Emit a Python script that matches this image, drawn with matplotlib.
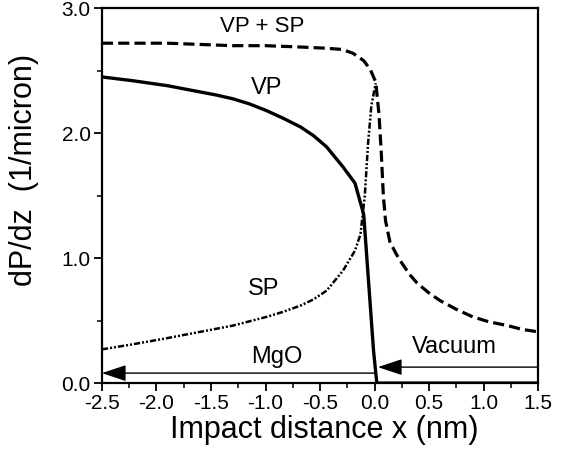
import numpy as np
import matplotlib
matplotlib.use("Agg")
import matplotlib.pyplot as plt
from matplotlib.ticker import FormatStrFormatter

plt.rcParams['font.family'] = ['Liberation Sans', 'DejaVu Sans']

# VP + SP (dashed)
x_tot = [-2.5, -2.2, -1.9, -1.6, -1.3, -1.0, -0.7, -0.45, -0.3, -0.2, -0.1, -0.04, 0.01, 0.04, 0.06, 0.08, 0.1, 0.14, 0.2, 0.25, 0.32, 0.39, 0.5, 0.6, 0.75, 0.9, 1.05, 1.22, 1.35, 1.5]
y_tot = [2.72, 2.72, 2.72, 2.71, 2.70, 2.70, 2.69, 2.68, 2.67, 2.64, 2.58, 2.51, 2.41, 2.15, 1.86, 1.50, 1.30, 1.13, 1.03, 0.96, 0.87, 0.80, 0.72, 0.66, 0.59, 0.53, 0.49, 0.46, 0.43, 0.41]

# VP (solid)
x_vp = [-2.5, -2.22, -1.9, -1.6, -1.45, -1.3, -1.15, -0.99, -0.84, -0.68, -0.56, -0.44, -0.29, -0.18, -0.1, -0.01, 0.02, 0.5, 1.0, 1.5]
y_vp = [2.45, 2.42, 2.38, 2.33, 2.305, 2.275, 2.235, 2.18, 2.12, 2.05, 1.98, 1.89, 1.73, 1.60, 1.35, 0.26, 0.0, 0.0, 0.0, 0.0]

# SP (dash-dot-dot)
x_sp = [-2.5, -2.22, -1.9, -1.6, -1.3, -0.99, -0.84, -0.68, -0.56, -0.44, -0.29, -0.18, -0.13, -0.09, -0.06, -0.03, 0.01]
y_sp = [0.27, 0.31, 0.36, 0.41, 0.46, 0.53, 0.57, 0.62, 0.67, 0.74, 0.90, 1.06, 1.19, 1.50, 1.92, 2.22, 2.40]

fig = plt.figure(figsize=(5.66, 4.55), dpi=100)
ax = fig.add_axes([0.180, 0.158, 0.771, 0.824])

ax.plot(x_tot, y_tot, color='black', lw=2.3, dashes=(3.5, 1.6))
ax.plot(x_vp, y_vp, color='black', lw=2.4, solid_capstyle='butt', solid_joinstyle='round')
ax.plot(x_sp, y_sp, color='black', lw=1.8, dashes=(2.5, 0.8, 0.8, 0.8, 0.8, 0.8))

# region arrows
arrow_kw = dict(arrowstyle='-|>,head_length=0.75,head_width=0.25', color='black', lw=1.0,
                mutation_scale=20, shrinkA=0, shrinkB=0)
ax.annotate('', xy=(-2.5, 0.08), xytext=(0.0, 0.08), arrowprops=arrow_kw)
ax.annotate('', xy=(0.03, 0.128), xytext=(1.5, 0.128), arrowprops=arrow_kw)

ax.text(-1.03, 2.85, 'VP + SP', fontsize=16, ha='center', va='center')
ax.text(-0.99, 2.36, 'VP', fontsize=17, ha='center', va='center')
ax.text(-1.02, 0.75, 'SP', fontsize=17, ha='center', va='center')
ax.text(-0.90, 0.21, 'MgO', fontsize=17, ha='center', va='center')
ax.text(0.73, 0.29, 'Vacuum', fontsize=17, ha='center', va='center')

ax.set_xlim(-2.5, 1.5)
ax.set_ylim(0, 3.0)
ax.set_xticks(np.arange(-2.5, 1.51, 0.5))
ax.set_xticks(np.arange(-2.5, 1.51, 0.25), minor=True)
ax.set_yticks([0, 1.0, 2.0, 3.0])
ax.set_yticks([0.5, 1.5, 2.5], minor=True)
ax.xaxis.set_major_formatter(FormatStrFormatter('%.1f'))
ax.yaxis.set_major_formatter(FormatStrFormatter('%.1f'))
ax.tick_params(which='major', length=6, width=1.3, labelsize=15, pad=2)
ax.tick_params(which='minor', length=3.5, width=1.1)
for s in ax.spines.values():
    s.set_linewidth(1.6)

ax.set_xlabel('Impact distance x (nm)', fontsize=22, labelpad=0)
ax.xaxis.set_label_coords(0.51, -0.085)
ax.xaxis.label.set_va('top')
ax.set_ylabel('dP/dz  (1/micron)', fontsize=22)
ax.yaxis.set_label_coords(-0.145, 0.568)

fig.savefig('out.png', dpi=100)
